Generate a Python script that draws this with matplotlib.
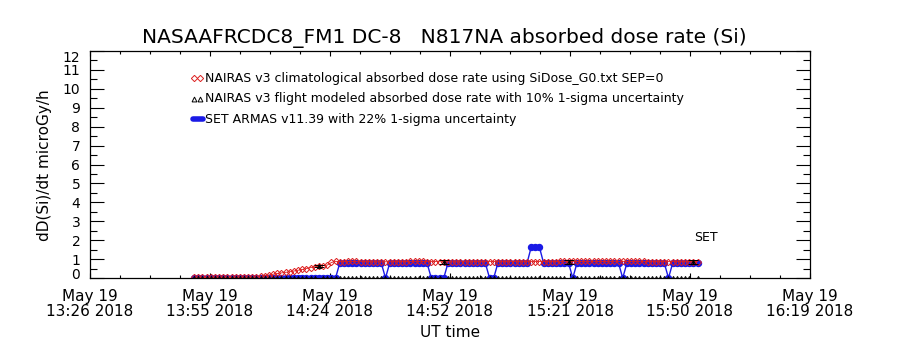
import numpy as np
import matplotlib
matplotlib.use("Agg")
import matplotlib.pyplot as plt
from matplotlib.ticker import AutoMinorLocator, MultipleLocator
from matplotlib.transforms import ScaledTranslation

plt.rcParams['font.family'] = ['DejaVu Sans']

# sample times, minutes after midnight UT (13:51 .. 15:52, 1 min cadence)
minutes = np.arange(831, 953)

# NAIRAS v3 climatological absorbed dose rate
clim_rate = [
    0.04, 0.04, 0.04, 0.04, 0.04, 0.04, 0.04, 0.04, 0.04, 0.04, 0.04,
    0.04, 0.04, 0.04, 0.04,
    0.06, 0.09, 0.13, 0.16, 0.20, 0.24, 0.27, 0.30, 0.33, 0.37, 0.41,
    0.45, 0.50, 0.55, 0.60, 0.64, 0.66, 0.68, 0.82, 0.88,
    0.87, 0.87, 0.88, 0.88, 0.88, 0.87, 0.87, 0.87, 0.86, 0.86, 0.86,
    0.86, 0.86, 0.87, 0.87, 0.87, 0.87, 0.88, 0.88, 0.88, 0.88, 0.87,
    0.87, 0.87, 0.86, 0.86, 0.86, 0.86, 0.86, 0.86, 0.86, 0.86, 0.87,
    0.87, 0.87, 0.87, 0.87, 0.87, 0.87, 0.87, 0.87, 0.87, 0.87, 0.87,
    0.87, 0.87, 0.87, 0.87, 0.87, 0.87, 0.87, 0.87, 0.87, 0.88, 0.88,
    0.88, 0.88, 0.88, 0.88, 0.88, 0.88, 0.88, 0.88, 0.88, 0.88, 0.88,
    0.88, 0.88, 0.88, 0.88, 0.88, 0.88, 0.88, 0.88, 0.87, 0.87, 0.87,
    0.87, 0.87, 0.87, 0.87, 0.87, 0.87, 0.87, 0.87, 0.87, 0.87,
]

# NAIRAS v3 flight modeled absorbed dose rate (0 where not modeled)
flight_rate = [
    0, 0, 0, 0, 0, 0, 0, 0, 0, 0, 0, 0, 0, 0, 0,
    0, 0, 0, 0, 0, 0, 0, 0, 0, 0, 0, 0, 0, 0, 0,
    0.64, 0, 0, 0, 0, 0, 0, 0, 0, 0, 0, 0, 0, 0, 0,
    0, 0, 0, 0, 0, 0, 0, 0, 0, 0, 0, 0, 0, 0, 0,
    0.85, 0, 0, 0, 0, 0, 0, 0, 0, 0, 0, 0, 0, 0, 0,
    0, 0, 0, 0, 0, 0, 0, 0, 0, 0, 0, 0, 0, 0, 0,
    0.85, 0, 0, 0, 0, 0, 0, 0, 0, 0, 0, 0, 0, 0, 0,
    0, 0, 0, 0, 0, 0, 0, 0, 0, 0, 0, 0, 0, 0, 0,
    0.85, 0,
]

# SET ARMAS v11.39 measured dose rate
set_rate = [
    0, 0, 0, 0, 0, 0, 0, 0, 0, 0, 0, 0, 0, 0, 0, 0, 0, 0,
    0, 0, 0, 0, 0, 0, 0, 0, 0, 0, 0, 0, 0, 0, 0, 0, 0,
    0.78, 0.78, 0.78, 0.78, 0.78, 0.78, 0.78, 0.78, 0.78, 0.78, 0.78,
    0,
    0.78, 0.78, 0.78, 0.78, 0.78, 0.78, 0.78, 0.78, 0.78, 0.78,
    0, 0, 0, 0,
    0.78, 0.78, 0.78, 0.78, 0.78, 0.78, 0.78, 0.78, 0.78, 0.78,
    0, 0,
    0.78, 0.78, 0.78, 0.78, 0.78, 0.78, 0.78, 0.78,
    1.62, 1.62, 1.62,
    0.78, 0.78, 0.78, 0.78, 0.78, 0.78, 0.78,
    0,
    0.78, 0.78, 0.78, 0.78, 0.78, 0.78, 0.78, 0.78, 0.78, 0.78, 0.78,
    0,
    0.78, 0.78, 0.78, 0.78, 0.78, 0.78, 0.78, 0.78, 0.78, 0.78,
    0,
    0.78, 0.78, 0.78, 0.78, 0.78, 0.78, 0.78,
]

x_tick_labels = ['May 19\n13:26 2018', 'May 19\n13:55 2018', 'May 19\n14:24 2018',
                 'May 19\n14:52 2018', 'May 19\n15:21 2018', 'May 19\n15:50 2018',
                 'May 19\n16:19 2018']

legend_labels = [
    'NAIRAS v3 climatological absorbed dose rate using SiDose_G0.txt SEP=0',
    'NAIRAS v3 flight modeled absorbed dose rate with 10% 1-sigma uncertainty',
    'SET ARMAS v11.39 with 22% 1-sigma uncertainty',
]

RED = '#dd1f1f'
BLUE = '#1a1ae6'

fig = plt.figure(figsize=(9, 3.5), dpi=100)
ax = fig.add_axes([0.1, 0.2057, 0.8, 0.6486])

flight = np.array(flight_rate)
ax.plot(minutes, set_rate, color=BLUE, lw=1.0, marker='o', ms=4.3,
        mfc=BLUE, mec=BLUE, zorder=2)
ax.plot(minutes, clim_rate, color=RED, lw=0.6, marker='D', ms=3.2,
        mfc='none', mec=RED, mew=0.7, zorder=3)
ax.errorbar(minutes, flight, yerr=0.1 * flight, fmt='^', ms=3, mfc='none',
            mec='k', mew=0.7, ecolor='k', elinewidth=0.9, capsize=3.5,
            capthick=1.2, zorder=4)

ax.text(954, 2.15, 'SET', ha='center', va='center', fontsize=9)

# legend drawn by hand, IDL style
lx = [0.145, 0.153]
ax.plot(lx, [0.881, 0.881], transform=ax.transAxes, ls='none', marker='D',
        ms=3.2, mfc='none', mec=RED, mew=0.7, clip_on=False)
ax.plot(lx, [0.789, 0.789], transform=ax.transAxes, ls='none', marker='^',
        ms=3.5, mfc='none', mec='k', mew=0.7, clip_on=False)
ax.plot([0.143, 0.157], [0.700, 0.700], transform=ax.transAxes, color=BLUE,
        lw=4, solid_capstyle='round', clip_on=False)
for ty, lab in zip([0.881, 0.789, 0.700], legend_labels):
    ax.text(0.16, ty, lab, transform=ax.transAxes, ha='left', va='center',
            fontsize=9)

ax.set_xlim(806, 979)
ax.set_ylim(0, 12)
ax.set_xticks(np.linspace(806, 979, 7))
ax.set_xticklabels(x_tick_labels, fontsize=11, linespacing=1.0)
ax.xaxis.set_minor_locator(AutoMinorLocator(4))
ax.set_yticks(range(13))
ax.set_yticklabels([str(v) for v in range(13)], fontsize=10)
ax.yaxis.set_minor_locator(MultipleLocator(0.5))
ax.tick_params(axis='both', which='both', direction='in', top=True, right=True)
ax.tick_params(axis='x', which='major', length=3.5, width=0.8, pad=8)
ax.tick_params(axis='x', which='minor', length=2.5, width=0.8)
ax.tick_params(axis='y', which='major', length=10, width=0.8, pad=7)
ax.tick_params(axis='y', which='minor', length=5, width=0.8)
for sp in ax.spines.values():
    sp.set_linewidth(0.9)

# end labels pushed inside the axis range, as in the IDL original
ylabs = ax.get_yticklabels()
ylabs[0].set_transform(ylabs[0].get_transform() +
                       ScaledTranslation(0, 5 / 100, fig.dpi_scale_trans))
ylabs[-1].set_transform(ylabs[-1].get_transform() +
                        ScaledTranslation(0, -6 / 100, fig.dpi_scale_trans))

ax.set_xlabel('UT time', fontsize=11, labelpad=4)
fig.text(0.05, 0.529, 'dD(Si)/dt microGy/h', rotation=90, ha='center',
         va='center', fontsize=11)
fig.text(0.494, 0.891, 'NASAAFRCDC8_FM1 DC-8   N817NA absorbed dose rate (Si)',
         ha='center', va='center', fontsize=14.5)

fig.savefig('out.png', dpi=100)
